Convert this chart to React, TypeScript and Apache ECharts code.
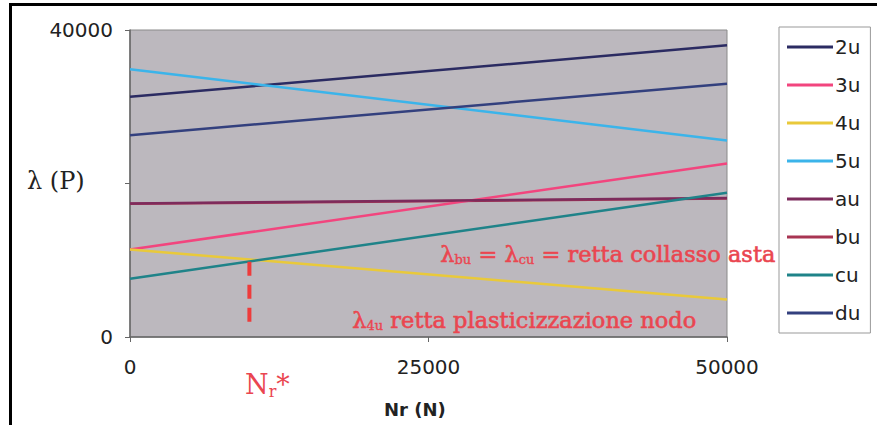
import React, { useEffect, useRef } from "react";
import * as echarts from "echarts";

const xValues = [0, 50000];
const seriesNames = ["2u", "3u", "4u", "5u", "au", "bu", "cu", "du"];
const s2u = [31300, 38000];
const s3u = [11400, 22600];
const s4u = [11400, 4900];
const s5u = [34900, 25600];
const sau = [17400, 18100];
const sbu = [17350, 18050];
const scu = [7600, 18800];
const sdu = [26300, 33000];
const seriesColors = ["#2b2b62", "#f2457e", "#e9c93a", "#3bb4ea", "#7d2b5c", "#a83552", "#1f8389", "#33407e"];
const nrStar = 10000;
const dashedRange = [2000, 10200];
const yTicks = [0, 20000, 40000];
const xTicks = [0, 25000, 50000];

export default function App() {
  const ref = useRef<HTMLDivElement>(null);
  useEffect(() => {
    const chart = echarts.init(ref.current!, null, { renderer: "svg" });
    const all = [s2u, s3u, s4u, s5u, sau, sbu, scu, sdu];
    const order = [5, 0, 1, 2, 3, 4, 6, 7];
    const lineSeries: any[] = order.map((i) => ({
      name: seriesNames[i],
      type: "line",
      data: xValues.map((x, k) => [x, all[i][k]]),
      showSymbol: false,
      symbol: "none",
      lineStyle: { color: seriesColors[i], width: 2.5 },
      itemStyle: { color: seriesColors[i] },
      z: 3,
    }));
    lineSeries.push({
      name: "Nr*",
      type: "line",
      data: dashedRange.map((v) => [nrStar, v]),
      showSymbol: false,
      symbol: "none",
      lineStyle: { color: "#ee3b3b", width: 4, type: [14, 9] },
      z: 4,
    });
    const red = "#ea4650";
    const serif = "DejaVu Serif";
    const annA = { fontSize: 22.5, fontFamily: serif, fill: red, stroke: red, lineWidth: 0.6 };
    const annS = { fontSize: 13, fontFamily: serif, fill: red, stroke: red, lineWidth: 0.4, padding: [11, 0, 0, 0] };
    chart.setOption({
      animation: false,
      backgroundColor: "#ffffff",
      grid: {
        left: 130,
        right: 150,
        top: 30,
        bottom: 88,
        show: true,
        backgroundColor: "#bcb8be",
        borderColor: "#8a8a8a",
        borderWidth: 1,
      },
      xAxis: {
        type: "value",
        min: xTicks[0],
        max: xTicks[2],
        interval: 25000,
        axisLine: { show: true, lineStyle: { color: "#666", width: 1.5 } },
        axisTick: { show: true, length: 5, lineStyle: { color: "#666" } },
        splitLine: { show: false },
        axisLabel: {
          margin: 20,
          fontSize: 20,
          color: "#222",
          fontFamily: "DejaVu Sans",
          formatter: (v: number) => String(v),
        },
      },
      yAxis: {
        type: "value",
        min: yTicks[0],
        max: yTicks[2],
        interval: 20000,
        axisLine: { show: true, lineStyle: { color: "#666", width: 1.5 } },
        axisTick: { show: true, length: 5, lineStyle: { color: "#666" } },
        splitLine: { show: false },
        axisLabel: {
          margin: 17,
          fontSize: 20,
          color: "#222",
          fontFamily: "DejaVu Sans",
          formatter: (v: number) => (v === 20000 ? "" : String(v)),
        },
      },
      legend: {
        data: seriesNames,
        orient: "vertical",
        left: 779,
        top: 27,
        itemWidth: 46,
        itemHeight: 3,
        itemGap: 18,
        padding: [10, 10, 10, 8],
        icon: "rect",
        borderColor: "#999",
        borderWidth: 1,
        backgroundColor: "#ffffff",
        textStyle: { fontSize: 20, color: "#222", fontFamily: "DejaVu Sans", padding: [0, 0, 0, -3] },
      },
      graphic: [
        { type: "rect", shape: { x: 10, y: 3, width: 867, height: 3 }, style: { fill: "#000" } },
        { type: "rect", shape: { x: 9, y: 3, width: 3, height: 422 }, style: { fill: "#000" } },
        {
          type: "text",
          left: 27,
          top: 169,
          style: { text: "λ (P)", fontSize: 24, fontFamily: serif, fill: "#222" },
        },
        {
          type: "text",
          left: 384,
          top: 400,
          style: { text: "Nr (N)", fontSize: 18, fontWeight: "bold", fontFamily: "DejaVu Sans", fill: "#222" },
        },
        {
          type: "text",
          left: 245,
          top: 371,
          style: {
            text: "{a|N}{s|r}{a|*}",
            fill: red,
            rich: {
              a: { fontSize: 27, fontFamily: serif, fill: red },
              s: { fontSize: 16, fontFamily: serif, fill: red, padding: [13, 0, 0, 0] },
            },
          },
        },
        {
          type: "text",
          left: 440,
          top: 242,
          z: 10,
          style: {
            text: "{a|λ}{s|bu}{a| = λ}{s|cu}{a| = retta collasso asta}",
            fill: red,
            rich: { a: annA, s: annS },
          },
        },
        {
          type: "text",
          left: 352,
          top: 308,
          z: 10,
          style: {
            text: "{a|λ}{s|4u}{a| retta plasticizzazione nodo}",
            fill: red,
            rich: { a: annA, s: annS },
          },
        },
      ],
      series: lineSeries,
    });
    return () => chart.dispose();
  }, []);
  return <div ref={ref} style={{ width: 877, height: 425, position: "absolute", left: 0, top: 0 }} />;
}
